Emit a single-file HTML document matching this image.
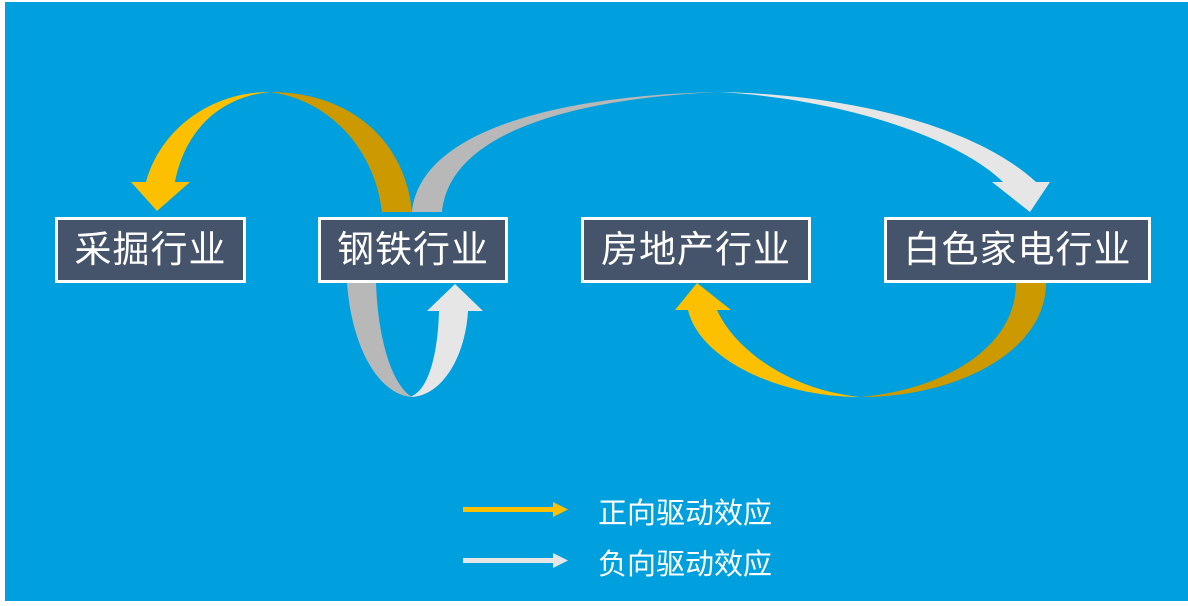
<!DOCTYPE html>
<html><head><meta charset="utf-8"><style>
body{margin:0;width:1188px;height:606px;background:#fff;overflow:hidden;font-family:"Liberation Sans","Noto Sans CJK SC",sans-serif}
.bg{position:absolute;left:5px;top:2px;width:1183px;height:599px;background:#00a0df}
.box{position:absolute;top:217px;height:60px;background:#46546b;border:3px solid #fff;color:#fff;font-size:37px;line-height:60px;text-align:center;letter-spacing:1px}
.lg{position:absolute;left:598px;color:#fff;font-size:29px}
</style></head><body>
<div class="bg"></div>
<svg width="1188" height="606" style="position:absolute;left:0;top:0">
<path d="M146,182 C160,130 210,92 270,92 C220,97 185,130 175,182 Z" fill="#fcc000"/>
<path d="M131,182 L190,182 L157,211 Z" fill="#fcc000"/>
<path d="M270,92 C350,92 405,140 412,212 L382,212 C375,150 330,100 270,92 Z" fill="#cc9900"/>
<path d="M412,212 C420,130 560,95 720,92 C580,98 450,130 442,212 Z" fill="#b8b8b8"/>
<path d="M720,92 C860,95 980,130 1036,182 L1050,182 L1030,212 L992,182 L1003,182 C960,140 850,100 720,92 Z" fill="#e6e6e6"/>
<path d="M347,283 L376,283 C378,340 392,385 412,397 C380,395 352,350 347,283 Z" fill="#b8b8b8"/>
<path d="M410,397 C430,390 438,350 439,311 L427,311 L455,284 L483,311 L468,311 C465,360 440,397 410,397 Z" fill="#e6e6e6"/>
<path d="M1016,283 L1046,283 C1046,350 960,397 860,397 C940,390 1016,350 1016,283 Z" fill="#cc9900"/>
<path d="M860,397 C780,397 700,360 688,310 L675,310 L697,283 L731,310 L717,310 C735,350 790,390 860,397 Z" fill="#fcc000"/>
<rect x="463" y="507" width="92" height="5" fill="#fcc000"/><path d="M553,502 L568,509.5 L553,517 Z" fill="#fcc000"/>
<rect x="463" y="558" width="92" height="5" fill="#e6e6e6"/><path d="M553,553 L568,560.5 L553,568 Z" fill="#e6e6e6"/>
</svg>
<div class="box" style="left:55px;width:185px">采掘行业</div>
<div class="box" style="left:318px;width:184px">钢铁行业</div>
<div class="box" style="left:581px;width:224px">房地产行业</div>
<div class="box" style="left:884px;width:261px">白色家电行业</div>
<div class="lg" style="top:490px">正向驱动效应</div>
<div class="lg" style="top:541px">负向驱动效应</div>
</body></html>
